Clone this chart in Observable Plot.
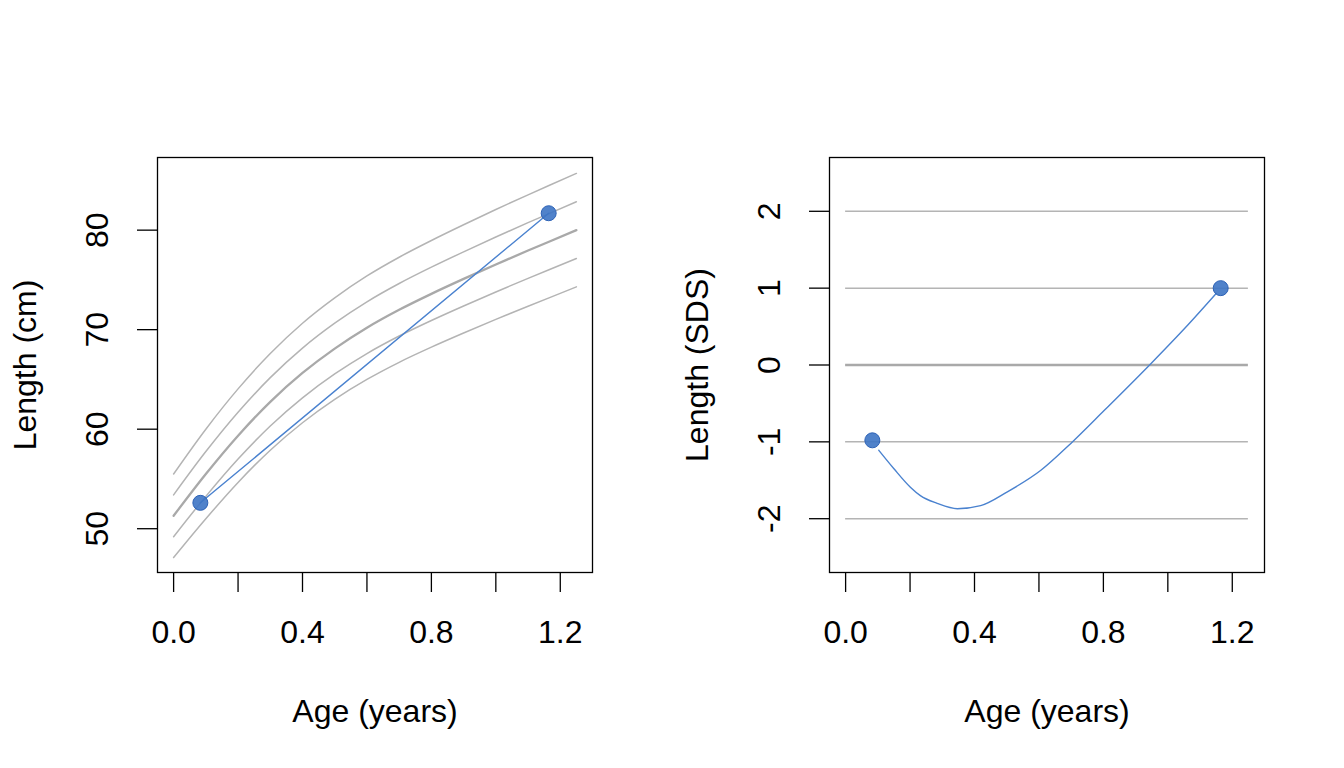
<!DOCTYPE html>
<html>
<head>
<meta charset="utf-8">
<script src="https://cdn.jsdelivr.net/npm/d3@7"></script>
<script src="https://cdn.jsdelivr.net/npm/@observablehq/plot@0.6"></script>
<style>
  html, body { margin: 0; padding: 0; background: #ffffff; }
  #wrap { display: flex; width: 1344px; height: 768px; }
  svg { font-family: "Liberation Sans", Arial, Helvetica, sans-serif; }
</style>
</head>
<body>
<div id="wrap"></div>
<script>
// Reference growth curves (length, cm) at -2, -1, 0, +1, +2 SDS
const ages  = [0, 0.1, 0.2, 0.3, 0.4, 0.5, 0.6, 0.7, 0.8, 0.9, 1.0, 1.1, 1.25];
const refM2 = [47.1, 51.0, 54.65, 57.89, 60.65, 63.0, 65.0, 66.72, 68.24, 69.66, 71.03, 72.35, 74.3];
const refM1 = [49.2, 53.25, 57.0, 60.32, 63.15, 65.55, 67.6, 69.36, 70.92, 72.38, 73.79, 75.15, 77.15];
const ref0  = [51.3, 55.5, 59.35, 62.75, 65.65, 68.1, 70.2, 72.0, 73.6, 75.1, 76.55, 77.95, 80.0];
const refP1 = [53.4, 57.75, 61.7, 65.18, 68.15, 70.65, 72.8, 74.64, 76.28, 77.82, 79.31, 80.75, 82.85];
const refP2 = [55.5, 60.0, 64.05, 67.61, 70.65, 73.2, 75.4, 77.28, 78.96, 80.54, 82.07, 83.55, 85.7];

// Observations
const obsAge = [0.083, 1.164];
const obsLen = [52.6, 81.7];
const obsSDS = [-0.98, 1.0];

// SDS trajectory between observations
const trajAge = [0.103, 0.15, 0.201, 0.232, 0.284, 0.347, 0.419, 0.502, 0.606, 0.699, 0.803, 0.948, 1.062, 1.15];
const trajSDS = [-1.11, -1.35, -1.59, -1.70, -1.80, -1.87, -1.83, -1.65, -1.37, -1.02, -0.59, 0.02, 0.52, 0.93];

// SDS reference levels
const sdsLevels = [-2, -1, 0, 1, 2];

// Axis ticks
const xTicks = [0, 0.2, 0.4, 0.6, 0.8, 1.0, 1.2];
const xLabeled = [0, 0.4, 0.8, 1.2];
const yTicksCm = [50, 60, 70, 80];
const yTicksSDS = [-2, -1, 0, 1, 2];

const FS = 32;
const GRAY = "#b4b4b4";
const BLUE = "#4a82cf";
const DOTFILL = "#3d74c4";
const DOTSTROKE = "#2d62b6";

const refCurves = [
  {name: "-2", vals: refM2},
  {name: "-1", vals: refM1},
  {name: "0", vals: ref0},
  {name: "+1", vals: refP1},
  {name: "+2", vals: refP2}
].flatMap(c => ages.map((a, i) => ({curve: c.name, age: a, len: c.vals[i]})));

const obs = obsAge.map((a, i) => ({age: a, len: obsLen[i], sds: obsSDS[i]}));
const traj = trajAge.map((a, i) => ({age: a, sds: trajSDS[i]}));

const common = {
  width: 672,
  height: 768,
  marginLeft: 157,
  marginRight: 80,
  marginTop: 157,
  marginBottom: 196,
  style: {fontFamily: '"Liberation Sans", Arial, Helvetica, sans-serif', fontSize: FS + "px", background: "white"}
};

const xAxis = Plot.axisX({
  ticks: xTicks,
  tickSize: 20,
  tickPadding: 28,
  tickFormat: d => xLabeled.some(v => Math.abs(v - d) < 1e-9) ? d.toFixed(1) : "",
  fontSize: FS,
  stroke: "black",
  strokeWidth: 1.3,
  label: null
});

function yAxis(ticks) {
  return Plot.axisY({
    ticks,
    tickSize: 20,
    tickPadding: 30,
    tickRotate: -90,
    textAnchor: "middle",
    lineAnchor: "bottom",
    fontSize: FS,
    stroke: "black",
    strokeWidth: 1.3,
    tickFormat: d => String(d),
    label: null
  });
}

const left = Plot.plot({
  ...common,
  x: {domain: [-0.05, 1.30]},
  y: {domain: [45.6, 87.3]},
  marks: [
    Plot.line(refCurves.filter(d => d.curve !== "0"), {x: "age", y: "len", z: "curve", stroke: GRAY, strokeWidth: 1.5, curve: "catmull-rom"}),
    Plot.line(refCurves.filter(d => d.curve === "0"), {x: "age", y: "len", stroke: "#a9a9a9", strokeWidth: 2.3, curve: "catmull-rom"}),
    Plot.line(obs, {x: "age", y: "len", stroke: BLUE, strokeWidth: 1.4}),
    Plot.dot(obs, {x: "age", y: "len", r: 7.5, fill: DOTFILL, fillOpacity: 0.9, stroke: DOTSTROKE, strokeWidth: 1}),
    Plot.frame({stroke: "black", strokeWidth: 1.3}),
    xAxis,
    yAxis(yTicksCm),
    Plot.text(["Age (years)"], {frameAnchor: "bottom", dy: 149, textAnchor: "middle", lineAnchor: "bottom", fontSize: FS, fill: "black"}),
    Plot.text(["Length (cm)"], {frameAnchor: "left", dx: -122, rotate: -90, textAnchor: "middle", lineAnchor: "bottom", fontSize: FS, fill: "black"})
  ]
});

const right = Plot.plot({
  ...common,
  x: {domain: [-0.05, 1.30]},
  y: {domain: [-2.7, 2.7]},
  marks: [
    Plot.ruleY(sdsLevels.filter(d => d !== 0), {y: d => d, x1: 0, x2: 1.25, stroke: GRAY, strokeWidth: 1.5}),
    Plot.ruleY([0], {y: d => d, x1: 0, x2: 1.25, stroke: "#a9a9a9", strokeWidth: 2.3}),
    Plot.line(traj, {x: "age", y: "sds", stroke: BLUE, strokeWidth: 1.4, curve: "monotone-x"}),
    Plot.dot(obs, {x: "age", y: "sds", r: 7.5, fill: DOTFILL, fillOpacity: 0.9, stroke: DOTSTROKE, strokeWidth: 1}),
    Plot.frame({stroke: "black", strokeWidth: 1.3}),
    xAxis,
    yAxis(yTicksSDS),
    Plot.text(["Age (years)"], {frameAnchor: "bottom", dy: 149, textAnchor: "middle", lineAnchor: "bottom", fontSize: FS, fill: "black"}),
    Plot.text(["Length (SDS)"], {frameAnchor: "left", dx: -122, rotate: -90, textAnchor: "middle", lineAnchor: "bottom", fontSize: FS, fill: "black"})
  ]
});

const wrap = document.getElementById("wrap");
wrap.appendChild(left);
wrap.appendChild(right);
</script>
</body>
</html>
